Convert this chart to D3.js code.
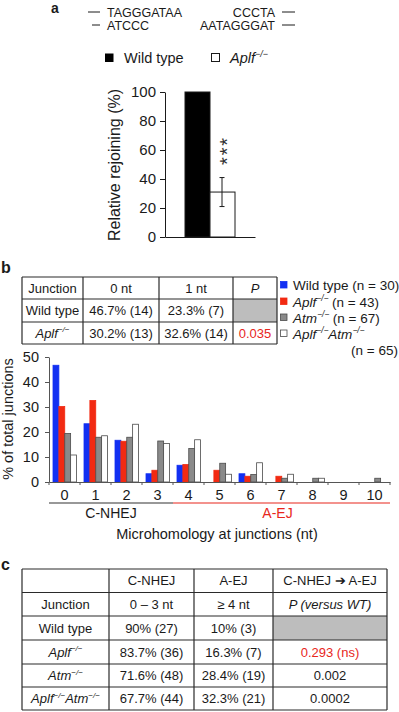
<!DOCTYPE html>
<html>
<head>
<meta charset="utf-8">
<script src="https://cdn.jsdelivr.net/npm/d3@7"></script>
<style>
  body { margin: 0; background: #fff; }
  svg { display: block; font-family: "Liberation Sans", Arial, sans-serif; }
</style>
</head>
<body>
<svg id="fig" width="399" height="712"></svg>
<script>
// ---- panel a: rejoining ----
const seqLeft = ["TAGGGATAA", "ATCCC"];
const seqRight = ["CCCTA", "AATAGGGAT"];
const rejoinGroups = ["Wild type", "_Aplf^−/−^_"];
const rejoinValues = [100, 31];
const rejoinErrors = [0, 10];
const rejoinTicks = [0, 20, 40, 60, 80, 100];
const rejoinSignif = "***";

// ---- panel b: microhomology histogram ----
const junctionSizes = [0, 1, 2, 3, 4, 5, 6, 7, 8, 9, 10];
const seriesKeys = ["wt", "aplf", "atm", "dko"];
const seriesLabels = ["Wild type (n = 30)", "_Aplf^−/−^_ (n = 43)", "_Atm^−/−^_ (n = 67)", "_Aplf^−/−^Atm^−/−^_"];
const wildType = [46.7, 23.3, 16.7, 3.3, 6.7, 0, 3.3, 0, 0, 0, 0];
const aplfKO = [30.2, 32.6, 16.3, 4.7, 7.0, 4.7, 2.3, 2.3, 0, 0, 0];
const atmKO = [19.4, 17.9, 17.9, 16.4, 13.4, 7.5, 3.0, 1.5, 1.5, 0, 1.5];
const doubleKO = [10.8, 18.5, 23.1, 15.4, 16.9, 3.1, 7.7, 3.1, 1.5, 0, 0];
const pctTicks = [0, 10, 20, 30, 40, 50];
const pathwayGroups = [["C-NHEJ", 0, 3], ["A-EJ", 4, 10]];

// small table in b ("#" = grey cell, "!" = red text)
const tableB = [
  ["Junction", "0 nt", "1 nt", "_P_"],
  ["Wild type", "46.7% (14)", "23.3% (7)", "#"],
  ["_Aplf^−/−^_", "30.2% (13)", "32.6% (14)", "!0.035"]
];

// ---- panel c table ----
const tableC = [
  ["", "C-NHEJ", "A-EJ", "C-NHEJ ➔ A-EJ"],
  ["Junction", "0 – 3 nt", "≥ 4 nt", "_P (versus WT)_"],
  ["Wild type", "90% (27)", "10% (3)", "#"],
  ["_Aplf^−/−^_", "83.7% (36)", "16.3% (7)", "!0.293 (ns)"],
  ["_Atm^−/−^_", "71.6% (48)", "28.4% (19)", "0.002"],
  ["_Aplf^−/−^Atm^−/−^_", "67.7% (44)", "32.3% (21)", "0.0002"]
];

const ink = "#1a1a1a";
const colors = {wt: "#1230f2", aplf: "#f22a12", atm: "#8a8a8a", dko: "#ffffff"};
const strokes = {wt: "#1230f2", aplf: "#f22a12", atm: "#4a4a4a", dko: "#4a4a4a"};

const svg = d3.select("#fig");

// "_" toggles italic, "^" toggles superscript
function parseRich(str) {
  const segs = [];
  let it = false, sup = false, buf = "";
  for (const ch of str) {
    if (ch === "_" || ch === "^") {
      if (buf) segs.push({t: buf, it, sup});
      buf = "";
      if (ch === "_") it = !it; else sup = !sup;
    } else buf += ch;
  }
  if (buf) segs.push({t: buf, it, sup});
  return segs;
}

function rich(g, str, x, y, size, anchor, color) {
  const t = g.append("text")
      .attr("x", x).attr("y", y)
      .attr("font-size", size)
      .attr("text-anchor", anchor || "middle")
      .attr("fill", color || ink);
  let raised = false;
  parseRich(str).forEach(s => {
    const sp = t.append("tspan").text(s.t)
        .attr("font-style", s.it ? "italic" : null);
    if (s.sup) {
      sp.attr("font-size", size * 0.62);
      if (!raised) { sp.attr("dy", -size * 0.42); raised = true; }
    } else if (raised) {
      sp.attr("dy", size * 0.42);
      raised = false;
    }
  });
  return t;
}

function drawTable(g, xs, ys, rows, size) {
  rows.forEach((row, r) => {
    row.forEach((cell, c) => {
      const x0 = xs[c], x1 = xs[c + 1], y0 = ys[r], y1 = ys[r + 1];
      if (cell === "#") {
        g.append("rect").attr("x", x0).attr("y", y0)
            .attr("width", x1 - x0).attr("height", y1 - y0)
            .attr("fill", "#bdbdbd");
        return;
      }
      const red = cell.startsWith("!");
      rich(g, red ? cell.slice(1) : cell, (x0 + x1) / 2, (y0 + y1) / 2 + size * 0.36,
          size, "middle", red ? "#e8261c" : ink);
    });
  });
  const line = (a, b, c, d) => g.append("line")
      .attr("x1", a).attr("y1", b).attr("x2", c).attr("y2", d)
      .attr("stroke", "#2a2a2a").attr("stroke-width", 1.2);
  xs.forEach(x => line(x, ys[0], x, ys[ys.length - 1]));
  ys.forEach(y => line(xs[0], y, xs[xs.length - 1], y));
}

// ================= panel a =================
const ga = svg.append("g");
ga.append("text").attr("x", 51).attr("y", 13).attr("font-size", 14)
    .attr("font-weight", "bold").attr("fill", ink).text("a");

[16.5, 29.5].forEach((y, i) => {
  ga.append("text").attr("x", 107).attr("y", y).attr("font-size", 12.5)
      .attr("fill", ink).text(seqLeft[i]);
  ga.append("text").attr("x", 275).attr("y", y).attr("font-size", 12.5)
      .attr("text-anchor", "end").attr("fill", ink).text(seqRight[i]);
  ga.append("line").attr("x1", i ? 92 : 88).attr("x2", 100)
      .attr("y1", y - 4.5).attr("y2", y - 4.5).attr("stroke", ink);
  ga.append("line").attr("x1", 282).attr("x2", 295)
      .attr("y1", y - 4.5).attr("y2", y - 4.5).attr("stroke", ink);
});

// legend a
ga.append("rect").attr("x", 105).attr("y", 53.5).attr("width", 8.5).attr("height", 8.5)
    .attr("fill", "#000");
rich(ga, rejoinGroups[0], 124, 63, 14.5, "start");
ga.append("rect").attr("x", 211.5).attr("y", 53.5).attr("width", 8).attr("height", 8)
    .attr("fill", "#fff").attr("stroke", ink).attr("stroke-width", 1);
rich(ga, rejoinGroups[1], 230, 63, 14.5, "start");

const yA = d3.scaleLinear().domain([0, 100]).range([237, 92]);
const xA = d3.scaleBand().domain(rejoinGroups).range([165, 255])
    .paddingInner(0).paddingOuter(0.8);

ga.append("g").attr("transform", "translate(165,0)")
    .call(d3.axisLeft(yA).tickValues(rejoinTicks).tickSize(5).tickSizeOuter(0).tickPadding(4))
    .call(g => g.selectAll("text").attr("font-size", 15).attr("fill", ink)
        .attr("font-family", null))
    .call(g => g.selectAll("path, line").attr("stroke", ink));

ga.selectAll("rect.bar").data(rejoinValues).enter().append("rect")
    .attr("class", "bar")
    .attr("x", (d, i) => xA(rejoinGroups[i]))
    .attr("y", d => yA(d))
    .attr("width", xA.bandwidth())
    .attr("height", d => yA(0) - yA(d))
    .attr("fill", (d, i) => i ? "#fff" : "#000")
    .attr("stroke", ink).attr("stroke-width", 1);

ga.append("g").attr("transform", `translate(0,${yA(0)})`)
    .call(d3.axisBottom(xA).tickSize(0).tickSizeOuter(0).tickFormat(""))
    .call(g => g.select("path").attr("stroke", ink));

// error bar + stars on the knockout bar
const eCx = xA(rejoinGroups[1]) + xA.bandwidth() / 2 - 0.5;
const eV = rejoinValues[1], eE = rejoinErrors[1];
ga.append("line").attr("x1", eCx).attr("x2", eCx)
    .attr("y1", yA(eV - eE)).attr("y2", yA(eV + eE)).attr("stroke", ink);
[eV - eE, eV + eE].forEach(v => ga.append("line")
    .attr("x1", eCx - 2.5).attr("x2", eCx + 2.5)
    .attr("y1", yA(v)).attr("y2", yA(v)).attr("stroke", ink));
// rotated "***": glyph centre sits ~0.58em off the baseline
ga.append("text")
    .attr("transform", `translate(${eCx + 11.6},${yA(eV + eE) - 27}) rotate(-90)`)
    .attr("text-anchor", "middle").attr("font-size", 20)
    .attr("letter-spacing", 1.8).attr("fill", "#333")
    .text(rejoinSignif);

ga.append("text")
    .attr("transform", "translate(120,165) rotate(-90)")
    .attr("text-anchor", "middle").attr("font-size", 16).attr("fill", ink)
    .text("Relative rejoining (%)");

// ================= panel b =================
const gb = svg.append("g");
gb.append("text").attr("x", 1).attr("y", 273).attr("font-size", 16)
    .attr("font-weight", "bold").attr("fill", ink).text("b");

drawTable(gb, [22, 83, 159, 233, 277], [277, 299, 322, 344], tableB, 13);

// legend b
const legY = [285, 301.5, 317.5, 333.5];
seriesKeys.forEach((k, i) => {
  gb.append("rect").attr("x", 280.5).attr("y", legY[i] - 3.5)
      .attr("width", 6.5).attr("height", 6.5)
      .attr("fill", colors[k]).attr("stroke", strokes[k]).attr("stroke-width", 0.8);
  rich(gb, seriesLabels[i], 293, legY[i] + 5, 13.5, "start");
});
rich(gb, "(n = 65)", 398, 355, 13.5, "end");

const seriesData = {wt: wildType, aplf: aplfKO, atm: atmKO, dko: doubleKO};
const yB = d3.scaleLinear().domain([0, 50]).range([482, 357]);
const xB = d3.scaleBand().domain(junctionSizes).range([49, 390]);
const xSub = d3.scaleBand().domain(seriesKeys).range([4, 27.5]);

gb.append("g").attr("transform", "translate(49,0)")
    .call(d3.axisLeft(yB).tickValues(pctTicks).tickSize(4).tickSizeOuter(0).tickPadding(6))
    .call(g => g.selectAll("text").attr("font-size", 14.5).attr("fill", ink)
        .attr("font-family", null))
    .call(g => g.selectAll("path, line").attr("stroke", "#555"));

gb.selectAll("g.grp").data(junctionSizes).enter().append("g")
    .attr("class", "grp")
    .attr("transform", d => `translate(${xB(d)},0)`)
    .selectAll("rect")
    .data((d, i) => seriesKeys.map(k => ({k, v: seriesData[k][i]})).filter(e => e.v > 0))
    .enter().append("rect")
    .attr("x", e => xSub(e.k))
    .attr("y", e => yB(e.v))
    .attr("width", xSub.bandwidth())
    .attr("height", e => yB(0) - yB(e.v))
    .attr("fill", e => colors[e.k])
    .attr("stroke", e => strokes[e.k]).attr("stroke-width", 0.8);

gb.append("g").attr("transform", `translate(0,${yB(0)})`)
    .call(d3.axisBottom(xB).tickSize(0).tickSizeOuter(0).tickPadding(8))
    .call(g => g.selectAll("text").attr("font-size", 14.5).attr("fill", ink)
        .attr("font-family", null))
    .call(g => g.select("path").attr("stroke", "#555"));

// tick marks sit at the band edges
const edges = junctionSizes.map(d => xB(d)).concat([xB.range()[1]]);
gb.selectAll("line.edge").data(edges).enter().append("line")
    .attr("class", "edge")
    .attr("x1", d => d).attr("x2", d => d)
    .attr("y1", yB(0)).attr("y2", yB(0) + 3).attr("stroke", "#555");

pathwayGroups.forEach(([name, a, b], i) => {
  const x0 = xB(a), x1 = xB(b) + xB.bandwidth();
  const col = i ? "#e8261c" : "#333";
  gb.append("line").attr("x1", x0).attr("x2", x1).attr("y1", 503).attr("y2", 503)
      .attr("stroke", col).attr("stroke-width", 1.2);
  gb.append("text").attr("x", (x0 + x1) / 2 - (i ? 4 : 0)).attr("y", 518)
      .attr("text-anchor", "middle").attr("font-size", 14).attr("fill", i ? "#e8261c" : ink)
      .text(name);
});

gb.append("text").attr("x", 217).attr("y", 539).attr("text-anchor", "middle")
    .attr("font-size", 14.5).attr("fill", ink).text("Microhomology at junctions (nt)");

gb.append("text")
    .attr("transform", "translate(13,419) rotate(-90)")
    .attr("text-anchor", "middle").attr("font-size", 14.5).attr("fill", ink)
    .text("% of total junctions");

// ================= panel c =================
const gc = svg.append("g");
gc.append("text").attr("x", 1).attr("y", 570).attr("font-size", 16)
    .attr("font-weight", "bold").attr("fill", ink).text("c");

drawTable(gc, [22, 109, 194, 273, 387], [569, 592.5, 616, 640, 664, 687, 710], tableC, 13);
</script>
</body>
</html>
